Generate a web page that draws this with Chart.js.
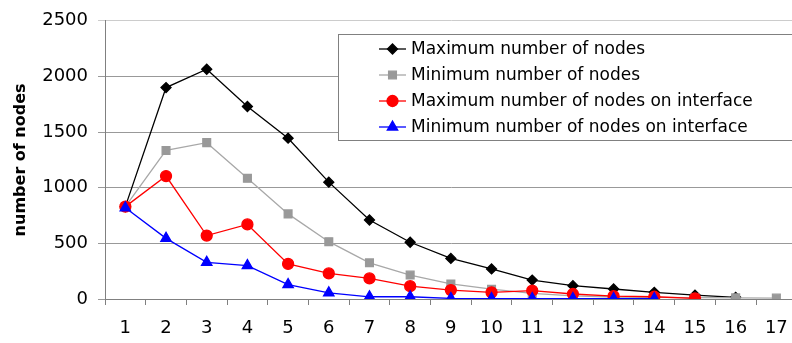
<!DOCTYPE html>
<html>
<head>
<meta charset="utf-8">
<script src="https://cdn.jsdelivr.net/npm/chart.js@4/dist/chart.umd.min.js"></script>
<style>
html,body{margin:0;padding:0;background:#fff;overflow:hidden;width:792px;height:343px;}
canvas{display:block;}
</style>
</head>
<body>
<canvas id="c" width="804" height="343"></canvas>
<script>
const categories = ['1','2','3','4','5','6','7','8','9','10','11','12','13','14','15','16','17'];
const maxNodes = [830,1900,2065,1730,1445,1050,710,510,365,270,170,120,90,60,35,15];
const minNodes = [830,1335,1405,1085,765,515,325,215,135,88,50,28,18,15,12,10,8];
const maxInterface = [830,1105,570,670,315,230,185,115,80,60,75,45,25,20,5];
const minInterface = [820,545,330,300,130,55,20,20,5,3,3,3,3,3];
const seriesNames = ['Maximum number of nodes','Minimum number of nodes','Maximum number of nodes on interface','Minimum number of nodes on interface'];

const FONT = '"DejaVu Sans", sans-serif';

const legendPlugin = {
  id: 'boxLegend',
  afterDraw(chart) {
    const ctx = chart.ctx;
    ctx.save();
    ctx.fillStyle = '#fff';
    ctx.fillRect(338.5, 34.5, 500, 106);
    ctx.strokeStyle = '#808080';
    ctx.lineWidth = 1;
    ctx.strokeRect(338.5, 34.5, 500, 106);
    const rows = [49, 75, 101, 127];
    chart.data.datasets.forEach((ds, i) => {
      const y = rows[i];
      ctx.strokeStyle = ds.borderColor;
      ctx.lineWidth = 1.3;
      ctx.beginPath();
      ctx.moveTo(379, y);
      ctx.lineTo(406, y);
      ctx.stroke();
      ctx.fillStyle = ds.pointBackgroundColor;
      ctx.strokeStyle = ds.pointBorderColor;
      Chart.helpers.drawPoint(ctx, {pointStyle: ds.pointStyle, radius: ds.pointRadius, rotation: 0, borderWidth: 1}, 392.5, y);
      ctx.fillStyle = '#000';
      ctx.font = '17px ' + FONT;
      ctx.textBaseline = 'middle';
      ctx.textAlign = 'left';
      ctx.fillText(ds.label, 411, y + 1);
    });
    ctx.restore();
  }
};

new Chart(document.getElementById('c'), {
  type: 'line',
  data: {
    labels: categories,
    datasets: [
      {label: seriesNames[0], data: maxNodes, borderColor: '#000000', backgroundColor: '#000000',
       pointBackgroundColor: '#000000', pointBorderColor: '#000000', pointStyle: 'rectRot', pointRadius: 5,
       borderWidth: 1.3, order: 4},
      {label: seriesNames[1], data: minNodes, borderColor: '#a8a8a8', backgroundColor: '#999999',
       pointBackgroundColor: '#999999', pointBorderColor: '#999999', pointStyle: 'rect', pointRadius: 5.5,
       borderWidth: 1.3, order: 3},
      {label: seriesNames[2], data: maxInterface, borderColor: '#ff0000', backgroundColor: '#ff0000',
       pointBackgroundColor: '#ff0000', pointBorderColor: '#ff0000', pointStyle: 'circle', pointRadius: 5.5,
       borderWidth: 1.3, order: 2},
      {label: seriesNames[3], data: minInterface, borderColor: '#0000ff', backgroundColor: '#0000ff',
       pointBackgroundColor: '#0000ff', pointBorderColor: '#0000ff', pointStyle: 'triangle', pointRadius: 6,
       borderWidth: 1.3, order: 1}
    ]
  },
  options: {
    responsive: false,
    animation: false,
    layout: {padding: {top: 16, right: 1, left: 0, bottom: 0}},
    plugins: {legend: {display: false}, tooltip: {enabled: false}},
    elements: {line: {tension: 0}},
    scales: {
      x: {
        offset: true,
        grid: {offset: true, drawOnChartArea: false, drawTicks: true, tickLength: 6, color: '#808080'},
        border: {color: '#808080', width: 1},
        ticks: {font: {family: FONT, size: 18}, color: '#000', padding: 13, maxRotation: 0, autoSkip: false},
        afterFit(s) { s.height = 44; }
      },
      y: {
        min: 0, max: 2500,
        ticks: {stepSize: 500, font: {family: FONT, size: 18}, color: '#000', padding: 10,
                callback: (v) => String(v)},
        grid: {color: (c) => (c.tick && c.tick.value === 2500 ? '#cccccc' : '#999999'), tickLength: 7, lineWidth: 1},
        border: {color: '#808080', width: 1},
        title: {display: true, text: 'number of nodes', font: {family: FONT, size: 16, weight: 'bold'}, color: '#000', padding: {top: 11, bottom: 0}},
        afterFit(s) { s.width = 105; }
      }
    }
  },
  plugins: [legendPlugin]
});
</script>
</body>
</html>
